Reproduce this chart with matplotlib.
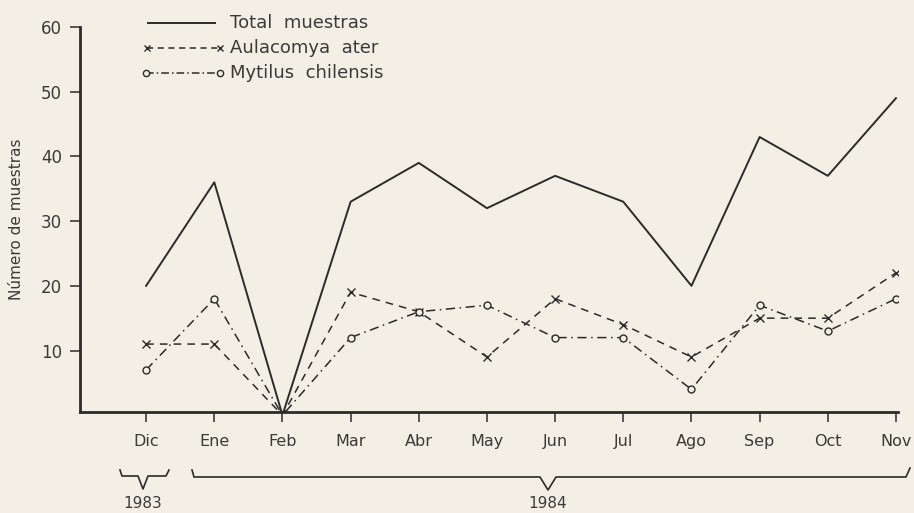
import matplotlib
matplotlib.use("Agg")
import matplotlib.pyplot as plt
from matplotlib.lines import Line2D

months = ["Dic", "Ene", "Feb", "Mar", "Abr", "May", "Jun", "Jul", "Ago", "Sep", "Oct", "Nov"]
total = [20, 36, 0, 33, 39, 32, 37, 33, 20, 43, 37, 49]
aulacomya = [11, 11, 0, 19, 16, 9, 18, 14, 9, 15, 15, 22]
mytilus = [7, 18, 0, 12, 16, 17, 12, 12, 4, 17, 13, 18]
yticks = [10, 20, 30, 40, 50, 60]
labels = ["Total  muestras", "Aulacomya  ater", "Mytilus  chilensis"]

bg = "#f3efe5"
ink = "#2b2b2b"

plt.rcParams["font.family"] = ["DejaVu Sans"]
fig = plt.figure(figsize=(9.14, 5.13), dpi=100, facecolor=bg)
ax = fig.add_axes([80 / 914, 1 - 412 / 513, (898 - 80) / 914, (412 - 27) / 513])
ax.set_facecolor(bg)

x = list(range(len(months)))
ax.plot(x, total, color=ink, lw=1.4, ls="-")
ax.plot(x, aulacomya, color=ink, lw=1.1, ls=(0, (5, 4)), marker="x", ms=6, mew=1.0)
ax.plot(x, mytilus, color=ink, lw=1.1, ls=(0, (6, 3, 1, 3)), marker="o", ms=5,
        mfc=bg, mec=ink, mew=1.0)

ax.set_xlim(-0.97, 11.03)
ax.set_ylim(0.5, 60)
ax.set_yticks(yticks)
ax.set_yticklabels([str(v) for v in yticks], fontsize=12, color="#3a3a3a")
ax.set_xticks(x)
ax.set_xticklabels(months, fontsize=11.5, color="#3a3a3a")
ax.tick_params(axis="both", direction="out", length=7, width=1.1, color=ink, pad=6)
ax.tick_params(axis="x", pad=9)
for s in ["top", "right"]:
    ax.spines[s].set_visible(False)
for s in ["left", "bottom"]:
    ax.spines[s].set_color(ink)
    ax.spines[s].set_linewidth(2.0)
ax.set_ylabel("Número de muestras", fontsize=11, color="#3a3a3a", labelpad=12)

# legend (manual, figure coordinates)
def fx(px):
    return px / 914
def fy(py):
    return 1 - py / 513

rows = [23, 48, 73]
fig.add_artist(Line2D([fx(148), fx(215)], [fy(rows[0])] * 2, color=ink, lw=1.4))
fig.add_artist(Line2D([fx(147), fx(220)], [fy(rows[1])] * 2, color=ink, lw=1.1,
                      ls=(0, (4, 3)), marker="x", ms=5, markevery=[0, 1]))
fig.add_artist(Line2D([fx(146), fx(220)], [fy(rows[2])] * 2, color=ink, lw=1.1,
                      ls=(0, (5, 2, 1, 2)), marker="o", ms=4.5, mfc=bg, markevery=[0, 1]))
for r, lab in zip(rows, labels):
    fig.text(fx(230), fy(r), lab, fontsize=13, color="#3a3a3a", va="center", ha="left")

# year braces
fig.add_artist(Line2D([fx(120), fx(122), fx(138), fx(143), fx(148), fx(166), fx(169)],
                      [fy(470), fy(476), fy(476), fy(489), fy(476), fy(476), fy(470)],
                      color=ink, lw=1.2))
fig.add_artist(Line2D([fx(192), fx(194), fx(540), fx(548), fx(556), fx(906), fx(910)],
                      [fy(470), fy(477), fy(477), fy(490), fy(477), fy(477), fy(468)],
                      color=ink, lw=1.2))
fig.text(fx(143), fy(504), "1983", fontsize=11, color="#3a3a3a", ha="center", va="center")
fig.text(fx(548), fy(504), "1984", fontsize=11, color="#3a3a3a", ha="center", va="center")

fig.savefig("out.png", dpi=100, facecolor=bg)
